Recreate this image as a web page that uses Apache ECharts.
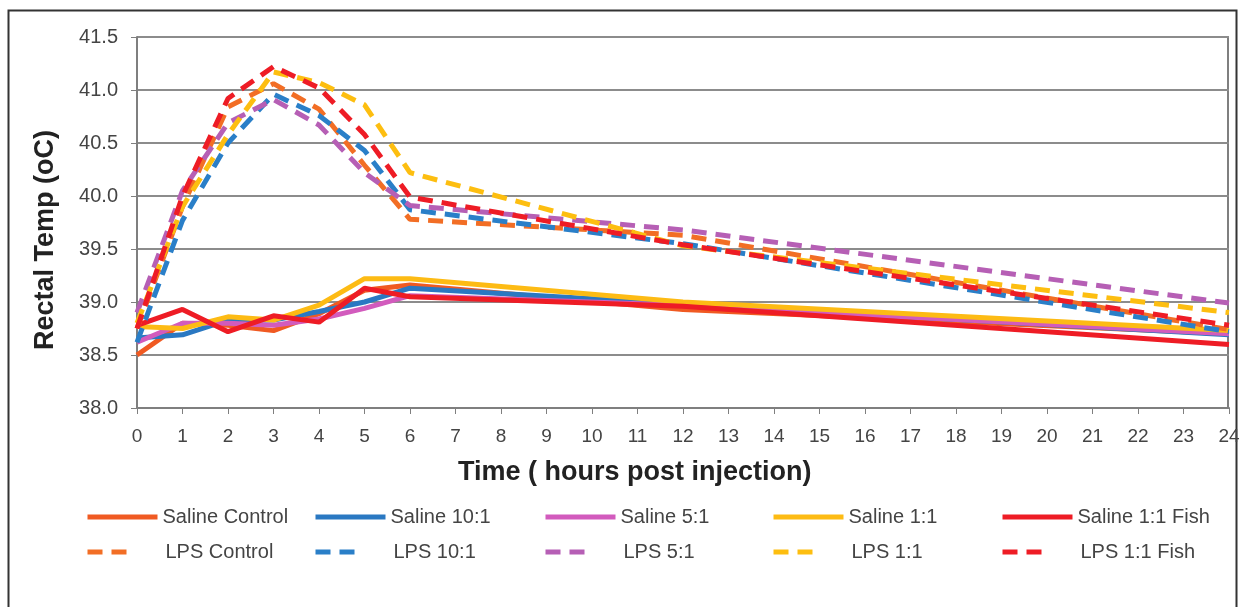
<!DOCTYPE html>
<html>
<head>
<meta charset="utf-8">
<script src="https://cdn.jsdelivr.net/npm/echarts@6/dist/echarts.min.js"></script>
<style>
  html, body { margin: 0; padding: 0; background: #fff; }
  #main { width: 1244px; height: 607px; }
</style>
</head>
<body>
<div id="main"></div>
<script>
// hours post injection
var hours = [0, 1, 2, 3, 4, 5, 6, 12, 24];

// saline groups
var salineControl = [38.50, 38.80, 38.78, 38.73, 38.89, 39.11, 39.16, 38.93, 38.70];
var saline10 = [38.66, 38.69, 38.83, 38.83, 38.91, 39.00, 39.13, 38.98, 38.69];
var saline5 = [38.62, 38.80, 38.80, 38.78, 38.84, 38.94, 39.06, 38.97, 38.70];
var saline1 = [38.77, 38.75, 38.86, 38.83, 38.97, 39.22, 39.22, 39.00, 38.73];
var saline1Fish = [38.78, 38.93, 38.72, 38.87, 38.81, 39.13, 39.05, 38.96, 38.60];

// LPS groups
var lpsControl = [38.75, 39.90, 40.84, 41.06, 40.82, 40.29, 39.78, 39.63, 38.74];
var lps10 = [38.62, 39.77, 40.50, 40.96, 40.76, 40.43, 39.87, 39.55, 38.72];
var lps5 = [38.90, 40.05, 40.69, 40.91, 40.67, 40.22, 39.91, 39.68, 38.99];
var lps1 = [38.80, 39.90, 40.58, 41.17, 41.07, 40.86, 40.22, 39.53, 38.90];
var lps1Fish = [38.75, 40.00, 40.92, 41.22, 41.02, 40.58, 39.99, 39.54, 38.78];

var salineNames = ['Saline Control', 'Saline 10:1', 'Saline 5:1', 'Saline 1:1', 'Saline 1:1 Fish'];
var lpsNames = ['LPS Control', 'LPS 10:1', 'LPS 5:1', 'LPS 1:1', 'LPS 1:1 Fish'];

var chart = echarts.init(document.getElementById('main'));
var FONT = 'Liberation Sans, Arial, sans-serif';

function pairs(vals) {
    return hours.map(function (h, i) { return [h, vals[i]]; });
}

function makeSeries(name, vals, color, dashed) {
    return {
        name: name,
        type: 'line',
        data: pairs(vals),
        symbol: 'none',
        color: color,
        lineStyle: {
            color: color,
            width: 5,
            type: dashed ? [15, 9] : 'solid'
        },
        z: dashed ? 3 : 2,
        animation: false
    };
}

var seriesList = [
    makeSeries(salineNames[0], salineControl, '#f05a22', false),
    makeSeries(salineNames[1], saline10, '#2a78c2', false),
    makeSeries(salineNames[2], saline5, '#d25bbd', false),
    makeSeries(salineNames[3], saline1, '#fdbb14', false),
    makeSeries(salineNames[4], saline1Fish, '#ee1c25', false),
    makeSeries(lpsNames[0], lpsControl, '#f26e25', true),
    makeSeries(lpsNames[1], lps10, '#2a7fc8', true),
    makeSeries(lpsNames[2], lps5, '#b65fb5', true),
    makeSeries(lpsNames[3], lps1, '#fdbe10', true),
    makeSeries(lpsNames[4], lps1Fish, '#ee1c25', true)
];

// one legend per entry so the columns line up like the original
var colLeft = [85, 313, 543, 771, 1000];
var legends = [];
salineNames.forEach(function (n, i) {
    legends.push({
        data: [n], left: colLeft[i], top: 507, padding: 0,
        itemWidth: 70, itemHeight: 14,
        itemStyle: { opacity: 0 },
        lineStyle: { width: 5 },
        textStyle: { fontSize: 20, color: '#444', fontFamily: FONT },
        selectedMode: false
    });
});
lpsNames.forEach(function (n, i) {
    legends.push({
        data: [n], left: colLeft[i], top: 542, padding: 0,
        itemWidth: 46, itemHeight: 14,
        itemStyle: { opacity: 0 },
        lineStyle: { width: 5 },
        textStyle: { fontSize: 20, color: '#444', fontFamily: FONT, padding: [0, 0, 0, 27] },
        selectedMode: false
    });
});

var option = {
    backgroundColor: '#fff',
    textStyle: { fontFamily: FONT },
    grid: { left: 137, top: 37, right: 15, bottom: 199 },
    legend: legends,
    xAxis: {
        type: 'value',
        min: 0, max: 24, interval: 1,
        axisLine: { show: true, onZero: false, lineStyle: { color: '#7f7f7f', width: 2 } },
        axisTick: { show: true, length: 6, lineStyle: { color: '#7f7f7f' } },
        axisLabel: { color: '#444', fontSize: 19, margin: 19 },
        splitLine: { show: false }
    },
    yAxis: {
        type: 'value',
        min: 38, max: 41.5, interval: 0.5,
        axisLine: { show: true, lineStyle: { color: '#7f7f7f', width: 2 } },
        axisTick: { show: true, length: 6, lineStyle: { color: '#7f7f7f' } },
        axisLabel: {
            color: '#444', fontSize: 20, margin: 19,
            formatter: function (v) { return v.toFixed(1); }
        },
        splitLine: { show: true, lineStyle: { color: '#8c8c8c', width: 2 } }
    },
    graphic: [{
        type: 'rect',
        shape: { x: 8.5, y: 10.5, width: 1228, height: 600 },
        style: { fill: 'none', stroke: '#333', lineWidth: 2 },
        silent: true
    }, {
        type: 'rect',
        shape: { x: 1228, y: 37, width: 0, height: 371 },
        style: { fill: 'none', stroke: '#7f7f7f', lineWidth: 2 },
        silent: true
    }, {
        type: 'text',
        x: 46, y: 240,
        rotation: Math.PI / 2,
        style: {
            text: 'Rectal Temp (oC)',
            font: 'bold 27px Liberation Sans, Arial, sans-serif',
            fill: '#222',
            align: 'center',
            verticalAlign: 'middle'
        }
    }, {
        type: 'text',
        left: 458, top: 459,
        style: {
            text: 'Time ( hours post injection)',
            font: 'bold 27px Liberation Sans, Arial, sans-serif',
            fill: '#222'
        }
    }],
    series: seriesList
};

chart.setOption(option);
</script>
</body>
</html>
